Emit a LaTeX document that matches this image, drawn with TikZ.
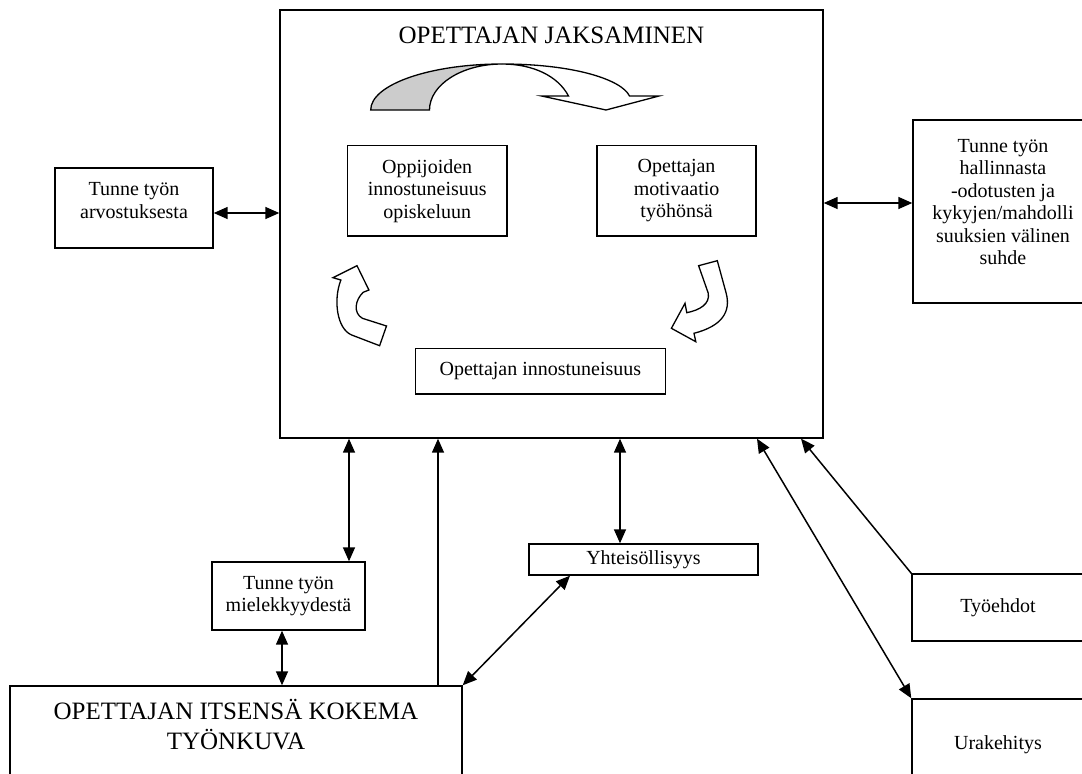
\documentclass[tikz,border=0pt]{standalone}
\usepackage{fontspec}
\setmainfont{Liberation Serif}
\usetikzlibrary{arrows.meta, positioning}
\definecolor{backgray}{RGB}{204,204,204}

\begin{document}
\begin{tikzpicture}[x=1pt, y=-1pt,
  box/.style={draw, line width=1.4pt, inner sep=0pt},
  lbl/.style={inner sep=0pt, align=center, font=\fontsize{20}{22.5}\selectfont},
  twoway/.style={{Triangle[length=14pt,width=12pt]}-{Triangle[length=14pt,width=12pt]}, line width=1.5pt},
  oneway/.style={-{Triangle[length=14pt,width=12pt]}, line width=1.5pt},
  turn/.style={draw, line width=1.3pt, line join=miter, fill=white}]
\useasboundingbox (0,0) rectangle (1082,774);
\clip (0,0) rectangle (1082,774);

% main box
\node[box, minimum width=543, minimum height=428] (main) at (551.5,224) {};
\node[lbl, font=\fontsize{25}{29}\selectfont, below=17pt of main.north] (title) {OPETTAJAN JAKSAMINEN};
\node[box, lbl, minimum width=159.5, minimum height=90.3] (oppi) at (427.2,190.9) {Oppijoiden\\innostuneisuus\\opiskeluun};
\node[box, lbl, minimum width=159, minimum height=90.3] (moti) at (676.6,190.9) {Opettajan\\motivaatio\\työhönsä};
\node[box, lbl, minimum width=250, minimum height=45.7] (inno) at (540.4,371.2) {Opettajan innostuneisuus};

% turning arrows
\draw[line width=1.3pt, fill=backgray] (370.7,110) .. controls (370.7,84.6) and (429.7,64) .. (502,64)
  .. controls (462,64) and (429.5,84.6) .. (429.5,110) -- cycle;
\draw[turn] (502,64) .. controls (575,64) and (622,80) .. (629.5,96) -- (659,96) -- (606,110)
  -- (541.6,96) -- (568.5,96) .. controls (558,76) and (533,64) .. (502,64) -- cycle;
\draw[turn] (357,265.7) -- (368.9,290) -- (363.2,292.3) .. controls (355,300) and (353,313) .. (362.4,318.3)
  -- (386.5,326) -- (379.6,345.7) -- (351.7,335) .. controls (337,329) and (333,300) .. (340.9,280)
  -- (333,277.7) -- cycle;
\draw[turn] (698.6,265.7) -- (717.3,260.7) -- (726.2,293.3) .. controls (731,312) and (722,326) .. (694,333.3)
  -- (695.8,341.7) -- (671.4,328.3) -- (685,303.3) -- (686.8,312.7) .. controls (700,310) and (710,304) .. (708.3,293.3)
  -- cycle;

% outer boxes
\node[box, minimum width=158, minimum height=80] (arvo) at (134,208) {};
\node[lbl, below=15pt of arvo.north] (arvot) {Tunne työn\\arvostuksesta};
\node[box, minimum width=180, minimum height=183] (hall) at (1003,211.5) {};
\node[lbl, below=19.5pt of hall.north] (hallt) {Tunne työn\\hallinnasta\\-odotusten ja\\kykyjen/mahdolli\\suuksien välinen\\suhde};
\node[box, lbl, minimum width=153, minimum height=68] (miel) at (288.5,596) {Tunne työn\\mielekkyydestä};
\node[box, lbl, minimum width=229, minimum height=31] (yht) at (643.5,559.5) {Yhteisöllisyys};
\node[box, lbl, minimum width=172, minimum height=67] (tyoe) at (998,607.5) {Työehdot};
\node[box, lbl, minimum width=172, minimum height=92] (ura) at (998,745) {Urakehitys};
\node[box, minimum width=452, minimum height=114] (kuva) at (236,743) {};
\node[lbl, font=\fontsize{25}{30}\selectfont, below=13.5pt of kuva.north] (kuvat) {OPETTAJAN ITSENSÄ KOKEMA\\TYÖNKUVA};

% connectors
\coordinate (arvoR) at ([yshift=-5]arvo.east);
\draw[twoway] (arvoR) -- (arvoR -| main.west);
\coordinate (hallL) at ([yshift=8.5]hall.west);
\draw[twoway] (hallL -| main.east) -- (hallL);
\coordinate (mielN) at ([xshift=60.5]miel.north);
\draw[twoway] (mielN |- main.south) -- (mielN);
\coordinate (mielS) at ([xshift=-6.5]miel.south);
\draw[twoway] (mielS) -- (mielS |- kuva.north);
\coordinate (kuvaN) at ([xshift=202]kuva.north);
\draw[oneway] (kuvaN) -- (kuvaN |- main.south);
\coordinate (yhtN) at ([xshift=-23.5]yht.north);
\draw[twoway] (yhtN |- main.south) -- (yhtN);
\coordinate (yhtS) at ([xshift=-73.5]yht.south);
\draw[twoway] (kuva.north east) -- (yhtS);
\coordinate (mainU) at ([xshift=205.5]main.south);
\draw[twoway] (ura.north west) -- (mainU);
\coordinate (mainT) at ([xshift=249.5]main.south);
\draw[oneway] (tyoe.north west) -- (mainT);
\end{tikzpicture}
\end{document}
